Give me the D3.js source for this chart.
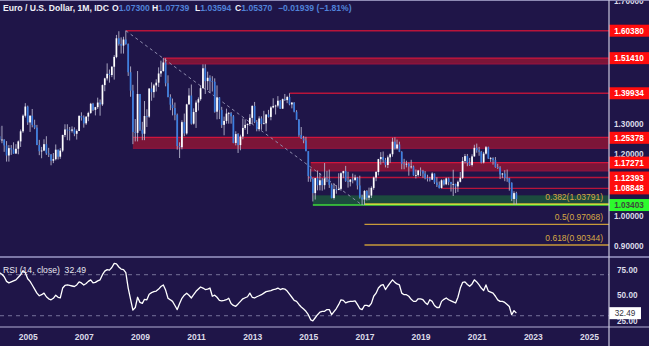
<!DOCTYPE html>
<html><head><meta charset="utf-8">
<script src="https://cdn.jsdelivr.net/npm/d3@7"></script>
<style>html,body{margin:0;padding:0;background:#1f1548;overflow:hidden}</style>
</head><body>
<svg id="c" width="649" height="346"></svg>
<script>
// ---------------- DATA (EUR/USD monthly, Jan 2004 .. Jun 2022) ----------------
const firstMonth = [2004, 0];
const opens = [
1.259,1.247,1.248,1.229,1.196,1.220,1.216,1.202,1.218,1.242,1.275,1.326,
1.356,1.304,1.326,1.296,1.287,1.230,1.210,1.212,1.233,1.203,1.199,1.179,
1.184,1.215,1.192,1.212,1.263,1.281,1.279,1.277,1.281,1.267,1.276,1.325,
1.320,1.301,1.323,1.335,1.365,1.345,1.354,1.369,1.363,1.426,1.448,1.463,
1.459,1.486,1.518,1.579,1.560,1.555,1.575,1.560,1.468,1.408,1.273,1.270,
1.397,1.280,1.267,1.325,1.323,1.415,1.403,1.425,1.434,1.464,1.472,1.500,
1.432,1.387,1.362,1.351,1.329,1.227,1.223,1.305,1.268,1.363,1.392,1.300,
1.338,1.369,1.380,1.416,1.481,1.439,1.450,1.439,1.437,1.339,1.386,1.345,
1.296,1.309,1.333,1.334,1.324,1.237,1.266,1.230,1.258,1.286,1.296,1.299,
1.319,1.358,1.306,1.282,1.317,1.299,1.301,1.330,1.322,1.353,1.358,1.359,
1.375,1.349,1.380,1.377,1.387,1.363,1.369,1.339,1.313,1.263,1.252,1.245,
1.210,1.129,1.119,1.073,1.122,1.099,1.115,1.099,1.121,1.118,1.100,1.057,
1.086,1.083,1.087,1.138,1.145,1.113,1.110,1.117,1.116,1.124,1.098,1.059,
1.052,1.080,1.058,1.065,1.090,1.124,1.142,1.184,1.191,1.181,1.165,1.190,
1.200,1.241,1.219,1.232,1.208,1.169,1.168,1.169,1.160,1.160,1.131,1.132,
1.147,1.145,1.137,1.122,1.121,1.117,1.137,1.108,1.099,1.090,1.115,1.102,
1.121,1.109,1.103,1.103,1.095,1.110,1.123,1.178,1.194,1.172,1.165,1.193,
1.221,1.213,1.208,1.173,1.202,1.223,1.186,1.187,1.181,1.158,1.156,1.134,
1.137,1.123,1.122,1.107,1.054,1.073];
const highs = [
1.290,1.293,1.249,1.243,1.230,1.230,1.239,1.233,1.245,1.281,1.330,1.367,
1.359,1.327,1.348,1.313,1.296,1.247,1.224,1.249,1.259,1.221,1.201,1.204,
1.232,1.215,1.220,1.264,1.298,1.298,1.289,1.291,1.288,1.281,1.328,1.337,
1.327,1.324,1.339,1.368,1.368,1.355,1.385,1.379,1.428,1.450,1.497,1.477,
1.488,1.524,1.590,1.602,1.582,1.584,1.6038,1.562,1.487,1.427,1.315,1.472,
1.397,1.306,1.374,1.347,1.415,1.435,1.430,1.445,1.484,1.506,1.5145,1.514,
1.458,1.396,1.382,1.369,1.333,1.239,1.311,1.333,1.365,1.416,1.428,1.350,
1.376,1.386,1.425,1.494,1.494,1.470,1.458,1.455,1.448,1.425,1.387,1.355,
1.323,1.349,1.338,1.338,1.328,1.275,1.269,1.264,1.317,1.314,1.301,1.331,
1.360,1.371,1.312,1.324,1.324,1.342,1.330,1.345,1.357,1.383,1.362,1.390,
1.377,1.382,1.397,1.391,1.3993,1.370,1.370,1.344,1.315,1.289,1.260,1.257,
1.210,1.153,1.124,1.123,1.147,1.139,1.122,1.1714,1.146,1.150,1.105,1.105,
1.099,1.138,1.141,1.146,1.162,1.143,1.119,1.137,1.133,1.126,1.130,1.068,
1.083,1.083,1.091,1.095,1.127,1.145,1.185,1.207,1.209,1.188,1.196,1.203,
1.254,1.2555,1.248,1.241,1.210,1.185,1.179,1.173,1.182,1.163,1.150,1.149,
1.157,1.149,1.145,1.133,1.126,1.141,1.137,1.125,1.111,1.118,1.118,1.124,
1.124,1.110,1.1495,1.104,1.114,1.142,1.191,1.201,1.201,1.188,1.200,1.231,
1.2349,1.224,1.211,1.208,1.227,1.225,1.191,1.190,1.191,1.169,1.161,1.139,
1.148,1.150,1.123,1.108,1.079,1.0774];
const lows = [
1.240,1.236,1.208,1.176,1.176,1.198,1.202,1.203,1.200,1.224,1.270,1.320,
1.296,1.273,1.288,1.282,1.230,1.197,1.187,1.210,1.198,1.191,1.164,1.171,
1.180,1.183,1.185,1.207,1.256,1.246,1.245,1.271,1.259,1.248,1.276,1.310,
1.287,1.296,1.308,1.332,1.341,1.327,1.348,1.326,1.358,1.406,1.441,1.434,
1.452,1.444,1.514,1.555,1.529,1.529,1.558,1.456,1.388,1.233,1.242,1.242,
1.276,1.246,1.246,1.289,1.319,1.375,1.385,1.405,1.420,1.453,1.470,1.422,
1.386,1.344,1.327,1.311,1.215,1.1876,1.216,1.259,1.264,1.362,1.297,1.297,
1.286,1.343,1.375,1.415,1.397,1.410,1.400,1.405,1.336,1.314,1.315,1.286,
1.262,1.300,1.300,1.300,1.236,1.229,1.2042,1.213,1.249,1.280,1.266,1.293,
1.299,1.302,1.275,1.275,1.280,1.299,1.275,1.320,1.311,1.350,1.330,1.353,
1.348,1.348,1.374,1.367,1.360,1.350,1.337,1.313,1.257,1.250,1.236,1.210,
1.110,1.110,1.0458,1.052,1.082,1.082,1.081,1.085,1.109,1.090,1.056,1.052,
1.071,1.083,1.081,1.122,1.110,1.091,1.095,1.105,1.112,1.085,1.055,1.0341,
1.034,1.049,1.050,1.057,1.084,1.112,1.131,1.166,1.172,1.157,1.155,1.172,
1.192,1.215,1.215,1.207,1.151,1.151,1.157,1.130,1.153,1.130,1.121,1.127,
1.129,1.123,1.118,1.111,1.111,1.116,1.103,1.093,1.088,1.088,1.098,1.099,
1.099,1.078,1.0636,1.073,1.077,1.108,1.119,1.170,1.161,1.162,1.160,1.192,
1.205,1.195,1.170,1.170,1.199,1.185,1.175,1.166,1.156,1.152,1.119,1.122,
1.112,1.110,1.081,1.047,1.035,1.0359];
const closes = [
1.247,1.248,1.229,1.196,1.220,1.216,1.202,1.218,1.242,1.275,1.326,1.356,
1.304,1.326,1.296,1.287,1.230,1.210,1.212,1.233,1.203,1.199,1.179,1.184,
1.215,1.192,1.212,1.263,1.281,1.279,1.277,1.281,1.267,1.276,1.325,1.320,
1.301,1.323,1.335,1.365,1.345,1.354,1.369,1.363,1.426,1.448,1.463,1.459,
1.486,1.518,1.579,1.560,1.555,1.575,1.560,1.468,1.408,1.273,1.270,1.397,
1.280,1.267,1.325,1.323,1.415,1.403,1.425,1.434,1.464,1.472,1.500,1.432,
1.387,1.362,1.351,1.329,1.227,1.223,1.305,1.268,1.363,1.392,1.300,1.338,
1.369,1.380,1.416,1.481,1.439,1.450,1.439,1.437,1.339,1.386,1.345,1.296,
1.309,1.333,1.334,1.324,1.237,1.266,1.230,1.258,1.286,1.296,1.299,1.319,
1.358,1.306,1.282,1.317,1.299,1.301,1.330,1.322,1.353,1.358,1.359,1.375,
1.349,1.380,1.377,1.387,1.363,1.369,1.339,1.313,1.263,1.252,1.245,1.210,
1.129,1.119,1.073,1.122,1.099,1.115,1.099,1.121,1.118,1.100,1.057,1.086,
1.083,1.087,1.138,1.145,1.113,1.110,1.117,1.116,1.124,1.098,1.059,1.052,
1.080,1.058,1.065,1.090,1.124,1.142,1.184,1.191,1.181,1.165,1.190,1.200,
1.241,1.219,1.232,1.208,1.169,1.168,1.169,1.160,1.160,1.131,1.132,1.147,
1.145,1.137,1.122,1.121,1.117,1.137,1.108,1.099,1.090,1.115,1.102,1.121,
1.109,1.103,1.103,1.095,1.110,1.123,1.178,1.194,1.172,1.165,1.193,1.221,
1.213,1.208,1.173,1.202,1.223,1.186,1.187,1.181,1.158,1.156,1.134,1.137,
1.123,1.122,1.107,1.054,1.073,1.0537];
const rsi = [
72,70.5,68,63.5,62,63,64,65,67.5,70,74,72,
66,63.5,60,56,52,49.5,50.5,52,48.5,46.5,45.5,47,
50,48,47.5,57,59.5,60,59.5,59,58.5,60,63,62,
60,61.5,63.5,65,62,62.5,64,65,70,73.5,75,74.5,
77,81,80.5,77.5,75.5,75,72,57,46,35.5,38,48,
43,42,46,45.5,51,52.5,53.5,54,56,58.5,60,55,
47,45.5,44,40,36,42,47,50,52,50,47.3,50.5,
53.8,56,58,57,55.5,56,57,49,50,48,45,44.5,
45,45.6,47,42,40,39.2,41.5,44,46.5,47.5,48.5,52,
48,47.3,48.5,49.5,50.5,52,53.5,54,54.5,55.4,56,57,
55.5,56.5,56,54,51,48,45,44,41,38.5,36.5,34.3,
31,26,25,28,31,33.5,34.3,34.3,36,36,31,34,
37,41,45.5,45,42.5,43.5,44,44,44.5,41,37,36,
40,40,39.2,42,49,52,57,59.5,60.4,55.5,59,62,
65,62.5,61,60,52,50.5,50.5,49,46,44,44,46.5,
46.5,45.6,43,41,45.6,44,40,38,38,44,46,47.3,
45.6,44.5,43.5,42.4,48,57,62.5,63,60.5,58.7,61,65,
63,60,57,54.5,60,54,53,52,49,45.5,44,44,
43,41,39,31,35,32.49];

// Horizontal support/resistance levels
const redLevels = [1.60380, 1.51410, 1.39934, 1.25378, 1.17271, 1.12393, 1.08848];
const redBandBottoms = [null, 1.4950, null, 1.2195, 1.1455, null, null];
const redBandTops = [1.60380, 1.51410, 1.39934, 1.2555, 1.17271, 1.12393, 1.08848];
const redStarts = ["2008-07", "2009-11", "2014-05", "2008-10", "2015-02", "2015-01", "2019-10"];
const supportLevel = 1.03403;
const supportZoneTop = 1.0658;
const supportStart = "2015-03";
const fibRatios = ["0.382", "0.5", "0.618"];
const fibValues = [1.03791, 0.97068, 0.90344];
const fibStart = "2017-01";
const trendFrom = ["2008-07", 1.6038];
const trendTo = ["2016-12", 1.0341];
const priceTicks = [0.9, 1.0, 1.2, 1.3, 1.7];
const rsiTicks = [25, 50, 75];
const rsiBands = [70, 30];
const yearTicks = [2005, 2007, 2009, 2011, 2013, 2015, 2017, 2019, 2021, 2023, 2025];
const header = {name: "Euro / U.S. Dollar, 1M, IDC", O: "1.07300", H: "1.07739", L: "1.03594", C: "1.05370", chg: "\u22120.01939 (\u22121.81%)"};
const rsiLabel = "RSI (14, close)";
const rsiLast = "32.49";

// ---------------- CHART ----------------
const W = 649, H = 346, AX = 609;
const FONT = "'Liberation Sans', Arial, sans-serif";
const parseM = d3.timeParse("%Y-%m");
const months = d3.timeMonth.range(new Date(firstMonth[0], firstMonth[1], 1), new Date(2022, 6, 1));
const data = months.map((d, i) => ({d, o: opens[i], h: highs[i], l: lows[i], c: closes[i], r: rsi[i]}));

const x = d3.scaleTime().domain([new Date(2005, 0, 1), new Date(2025, 0, 1)]).range([27.7, 589]);
const y = d3.scaleLinear().domain([0.86425, 1.70413]).range([257, 0]);
const yr = d3.scaleLinear().domain([19, 86.3]).range([327, 258]);

const svg = d3.select("#c");
svg.append("rect").attr("width", W).attr("height", H).attr("fill", "#1f1548");
const defs = svg.append("defs");
defs.append("clipPath").attr("id", "mainClip").append("rect").attr("x", 0).attr("y", 0).attr("width", AX).attr("height", 257);
defs.append("clipPath").attr("id", "rsiClip").append("rect").attr("x", 0).attr("y", 258).attr("width", AX).attr("height", 69);

const main = svg.append("g").attr("clip-path", "url(#mainClip)");

// red bands / lines
redLevels.forEach((v, i) => {
  const x0 = x(parseM(redStarts[i]));
  if (redBandBottoms[i] !== null) {
    main.append("rect").attr("x", x0).attr("width", AX - x0)
      .attr("y", y(redBandTops[i])).attr("height", y(redBandBottoms[i]) - y(redBandTops[i]))
      .attr("fill", "#7c1538");
    main.append("line").attr("x1", x0).attr("x2", AX).attr("y1", y(redBandTops[i])).attr("y2", y(redBandTops[i]))
      .attr("stroke", "#d0143c").attr("stroke-width", 1.2);
    main.append("line").attr("x1", x0).attr("x2", AX).attr("y1", y(redBandBottoms[i])).attr("y2", y(redBandBottoms[i]))
      .attr("stroke", "#9a1440").attr("stroke-width", 1);
  } else {
    main.append("line").attr("x1", x0).attr("x2", AX).attr("y1", y(v)).attr("y2", y(v))
      .attr("stroke", "#b8143a").attr("stroke-width", 1.4);
  }
});

// green support zone
const gx0 = x(parseM(supportStart));
main.append("rect").attr("x", gx0).attr("width", AX - gx0).attr("y", y(supportZoneTop))
  .attr("height", y(supportLevel) - y(supportZoneTop)).attr("fill", "#1c4b3e");

// fib lines
const fx0 = x(parseM(fibStart));
fibValues.forEach((v, i) => {
  main.append("line").attr("x1", fx0).attr("x2", AX).attr("y1", y(v)).attr("y2", y(v))
    .attr("stroke", "#c89a3a").attr("stroke-width", 1.3);
  main.append("text").attr("x", 603).attr("y", y(v) - 4).attr("text-anchor", "end")
    .attr("font-family", FONT).attr("font-size", 8.5).attr("fill", "#d6a845")
    .text(`${fibRatios[i]}(${v.toFixed(5)})`);
});
// support line
main.append("line").attr("x1", gx0).attr("x2", AX).attr("y1", y(supportLevel)).attr("y2", y(supportLevel))
  .attr("stroke", "#3ed83a").attr("stroke-width", 1.4);
main.append("line").attr("x1", fx0).attr("x2", AX).attr("y1", y(supportLevel) - 0.6).attr("y2", y(supportLevel) - 0.6)
  .attr("stroke", "#b6e83a").attr("stroke-width", 1.2);

// trend (dashed) line
main.append("line")
  .attr("x1", x(parseM(trendFrom[0]))).attr("y1", y(trendFrom[1]))
  .attr("x2", x(parseM(trendTo[0]))).attr("y2", y(trendTo[1]))
  .attr("stroke", "#8e8cae").attr("stroke-width", 1).attr("stroke-dasharray", "3,3");

// candles
const cg = main.append("g");
cg.selectAll("line.w").data(data).join("line").attr("class", "w")
  .attr("x1", d => x(d.d)).attr("x2", d => x(d.d))
  .attr("y1", d => y(d.h)).attr("y2", d => y(d.l))
  .attr("stroke", "#b4b2cc").attr("stroke-width", 0.9);
cg.selectAll("rect.b").data(data).join("rect").attr("class", "b")
  .attr("x", d => x(d.d) - 0.85).attr("width", 1.7)
  .attr("y", d => y(Math.max(d.o, d.c)))
  .attr("height", d => Math.max(0.8, Math.abs(y(d.o) - y(d.c))))
  .attr("fill", d => d.c >= d.o ? "#ffffff" : "#3c7ee0");

// header
const ht = svg.append("text").attr("x", 3).attr("y", 11).attr("font-family", FONT)
  .attr("font-size", 8.6).attr("font-weight", "bold");
ht.append("tspan").attr("fill", "#f0f0f6").text(header.name);
[["O", header.O, 112], ["H", header.H, 152], ["L", header.L, 195], ["C", header.C, 235]].forEach(p => {
  svg.append("text").attr("x", p[2]).attr("y", 11).attr("font-family", FONT).attr("font-size", 8.6).attr("font-weight", "bold")
    .call(t => { t.append("tspan").attr("fill", "#f0f0f6").text(p[0]); t.append("tspan").attr("fill", "#4f82d8").text(p[1]); });
});
svg.append("text").attr("x", 278).attr("y", 11).attr("font-family", FONT).attr("font-size", 8.6).attr("font-weight", "bold")
  .attr("fill", "#4f82d8").text(header.chg);

// price axis
const pa = svg.append("g").attr("transform", `translate(${AX},0)`)
  .call(d3.axisRight(y).tickValues(priceTicks).tickFormat(d3.format(".5f")).tickSize(0).tickPadding(5));
pa.select(".domain").remove();
pa.selectAll("text").attr("font-family", FONT).attr("font-size", 8.2).attr("font-weight", "bold").attr("fill", "#dcdce8");

// colored price labels
const labels = svg.append("g");
redLevels.forEach(v => {
  labels.append("rect").attr("x", AX).attr("y", y(v) - 6).attr("width", 40).attr("height", 12).attr("fill", "#ff0d0d");
});
redLevels.forEach(v => {
  labels.append("text").attr("x", 629).attr("y", y(v) + 3).attr("text-anchor", "middle")
    .attr("font-family", FONT).attr("font-size", 8.2).attr("font-weight", "bold").attr("fill", "#ffffff")
    .text(v.toFixed(5));
});
labels.append("rect").attr("x", AX).attr("y", y(supportLevel) - 6).attr("width", 40).attr("height", 12).attr("fill", "#2dfa2d");
labels.append("text").attr("x", 629).attr("y", y(supportLevel) + 3).attr("text-anchor", "middle")
  .attr("font-family", FONT).attr("font-size", 8.2).attr("font-weight", "bold").attr("fill", "#3c4a3c")
  .text(supportLevel.toFixed(5));

// RSI pane
const rp = svg.append("g").attr("clip-path", "url(#rsiClip)");
rsiBands.forEach(v => {
  rp.append("line").attr("x1", 0).attr("x2", AX).attr("y1", yr(v)).attr("y2", yr(v))
    .attr("stroke", "#77739a").attr("stroke-width", 1).attr("stroke-dasharray", "4,4");
});
rp.append("path").datum(data)
  .attr("d", d3.line().x(d => x(d.d)).y(d => yr(d.r)))
  .attr("fill", "none").attr("stroke", "#ffffff").attr("stroke-width", 1.3).attr("stroke-linejoin", "round");
svg.append("text").attr("x", 3).attr("y", 273).attr("font-family", FONT).attr("font-size", 8.6)
  .attr("fill", "#e8e8f0").text(rsiLabel + "  " + rsiLast).attr("xml:space", "preserve");

const ra = svg.append("g").attr("transform", `translate(${AX},0)`)
  .call(d3.axisRight(yr).tickValues(rsiTicks).tickFormat(d3.format(".2f")).tickSize(0).tickPadding(8));
ra.select(".domain").remove();
ra.selectAll("text").attr("font-family", FONT).attr("font-size", 8.2).attr("font-weight", "bold").attr("fill", "#dcdce8");
svg.append("rect").attr("x", AX).attr("y", yr(+rsiLast) - 6).attr("width", 32).attr("height", 12).attr("fill", "#ffffff");
svg.append("text").attr("x", 625).attr("y", yr(+rsiLast) + 3).attr("text-anchor", "middle")
  .attr("font-family", FONT).attr("font-size", 8.2).attr("fill", "#333340").text(rsiLast);

// time axis
const ta = svg.append("g").attr("transform", "translate(0,327)")
  .call(d3.axisBottom(x).tickValues(yearTicks.map(yv => new Date(yv, 0, 1))).tickFormat(d3.timeFormat("%Y")).tickSize(0).tickPadding(7));
ta.select(".domain").remove();
ta.selectAll("text").attr("font-family", FONT).attr("font-size", 8.5).attr("font-weight", "bold").attr("fill", "#dcdce8");

// frame / separators
const sep = svg.append("g");
sep.append("line").attr("x1", 0).attr("x2", W).attr("y1", 0.5).attr("y2", 0.5).attr("stroke", "#8e8ab4").attr("stroke-width", 1);
sep.append("line").attr("x1", 0).attr("x2", W).attr("y1", 257).attr("y2", 257).attr("stroke", "#9c98c6").attr("stroke-width", 1.5);
sep.append("line").attr("x1", 0).attr("x2", W).attr("y1", 327).attr("y2", 327).attr("stroke", "#b4b0d4").attr("stroke-width", 1.2);
sep.append("line").attr("x1", AX).attr("x2", AX).attr("y1", 0).attr("y2", H).attr("stroke", "#c8c6dc").attr("stroke-width", 1.2);
</script>
</body></html>
